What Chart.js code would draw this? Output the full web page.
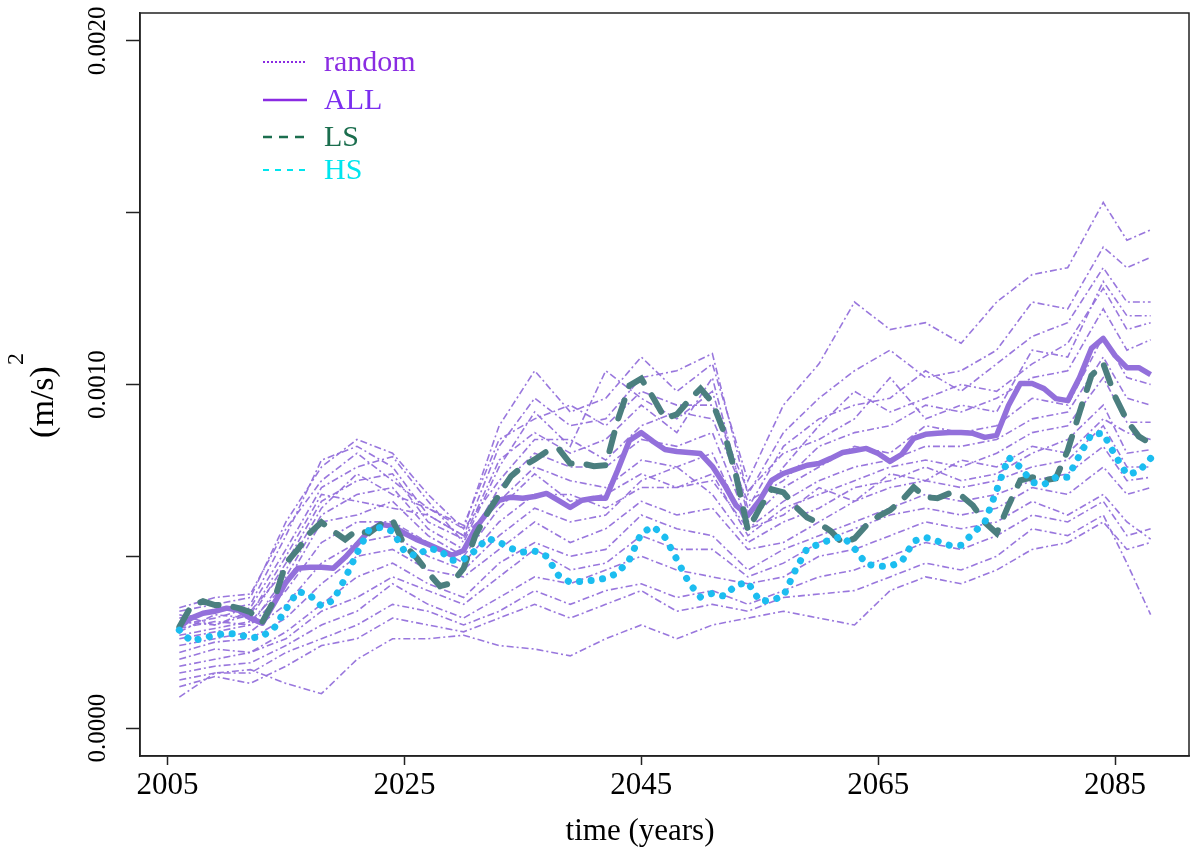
<!DOCTYPE html>
<html lang="en">
<head>
<meta charset="UTF-8">
<title>(m/s)^2 over time</title>
<script src="https://cdn.jsdelivr.net/npm/chart.js@4.4.0/dist/chart.umd.min.js"></script>
<style>
  body { margin: 0; background: #fff; }
  .wrap { width: 1200px; height: 858px; position: relative; }
</style>
</head>
<body>
<div class="wrap"><canvas id="chart"></canvas></div>
<script>
// values are in units of 1e-4 (m/s)^2
const years = [2006, 2007, 2008, 2009, 2010, 2011, 2012, 2013, 2014, 2015,
  2016, 2017, 2018, 2019, 2020, 2021, 2022, 2023, 2024, 2025,
  2026, 2027, 2028, 2029, 2030, 2031, 2032, 2033, 2034, 2035,
  2036, 2037, 2038, 2039, 2040, 2041, 2042, 2043, 2044, 2045,
  2046, 2047, 2048, 2049, 2050, 2051, 2052, 2053, 2054, 2055,
  2056, 2057, 2058, 2059, 2060, 2061, 2062, 2063, 2064, 2065,
  2066, 2067, 2068, 2069, 2070, 2071, 2072, 2073, 2074, 2075,
  2076, 2077, 2078, 2079, 2080, 2081, 2082, 2083, 2084, 2085,
  2086, 2087, 2088];

const allVals = [2.94, 3.20, 3.34, 3.40, 3.49, 3.43, 3.20, 3.05, 3.63, 4.24,
  4.65, 4.68, 4.68, 4.65, 4.97, 5.35, 5.73, 5.93, 5.87, 5.67,
  5.49, 5.35, 5.20, 5.03, 5.17, 5.81, 6.28, 6.63, 6.72, 6.69,
  6.74, 6.83, 6.63, 6.42, 6.63, 6.69, 6.69, 7.50, 8.37, 8.60,
  8.34, 8.11, 8.05, 8.02, 7.99, 7.62, 7.09, 6.48, 6.19, 6.63,
  7.21, 7.41, 7.53, 7.65, 7.70, 7.85, 8.02, 8.08, 8.14, 7.99,
  7.76, 7.97, 8.43, 8.55, 8.58, 8.60, 8.60, 8.58, 8.46, 8.52,
  9.39, 10.03, 10.03, 9.88, 9.59, 9.53, 10.20, 11.05, 11.34, 10.84,
  10.49, 10.49, 10.29];

const lsVals = [2.94, 3.55, 3.69, 3.58, 3.58, 3.49, 3.37, 3.08, 3.72, 4.80,
  5.20, 5.67, 5.99, 5.73, 5.49, 5.76, 5.67, 5.93, 6.05, 5.32,
  4.97, 4.53, 4.13, 4.22, 4.65, 5.61, 6.25, 6.80, 7.33, 7.62,
  7.82, 8.05, 8.14, 7.70, 7.70, 7.62, 7.65, 8.95, 9.97, 10.17,
  9.62, 9.01, 9.13, 9.53, 9.88, 9.48, 8.60, 7.35, 5.76, 6.40,
  6.95, 6.86, 6.45, 6.13, 5.96, 5.73, 5.38, 5.52, 5.90, 6.16,
  6.34, 6.63, 7.01, 6.72, 6.69, 6.83, 6.77, 6.48, 5.99, 5.67,
  6.48, 7.21, 7.30, 7.21, 7.27, 8.08, 9.19, 10.26, 10.61, 9.65,
  8.95, 8.49, 8.28];

const hsVals = [2.85, 2.53, 2.62, 2.70, 2.76, 2.73, 2.62, 2.67, 2.91, 3.46,
  3.98, 3.87, 3.55, 3.72, 4.36, 5.09, 5.76, 5.84, 5.73, 5.15,
  5.00, 5.23, 5.17, 4.88, 4.91, 5.17, 5.52, 5.41, 5.23, 5.12,
  5.15, 5.00, 4.45, 4.24, 4.27, 4.30, 4.36, 4.51, 4.91, 5.67,
  5.87, 5.55, 4.91, 4.24, 3.81, 3.92, 3.84, 4.16, 4.24, 3.69,
  3.72, 3.84, 4.59, 5.23, 5.35, 5.49, 5.58, 5.23, 4.77, 4.71,
  4.71, 4.85, 5.44, 5.55, 5.44, 5.32, 5.32, 5.67, 5.99, 6.92,
  7.88, 7.59, 7.15, 7.09, 7.30, 7.30, 7.94, 8.55, 8.58, 7.94,
  7.38, 7.47, 7.85];

// the random runs, read roughly every third year
const runYears = [2006, 2009, 2012, 2015, 2018, 2021, 2024, 2027, 2030, 2033,
  2036, 2039, 2042, 2045, 2048, 2051, 2054, 2057, 2060, 2063,
  2066, 2069, 2072, 2075, 2078, 2081, 2084, 2086, 2088];

const randomRuns = [
  [3.4, 3.6, 3.8, 6.0, 7.6, 8.4, 8.0, 6.8, 5.8, 8.8, 10.4, 9.2, 9.6, 10.8, 9.8, 10.6, 7.2, 9.4, 10.6, 12.4, 11.6, 11.8, 11.2, 12.4, 13.2, 13.4, 15.3, 14.2, 14.5],
  [3.2, 3.4, 3.6, 5.6, 7.8, 8.2, 7.6, 6.2, 5.6, 8.2, 9.6, 8.8, 9.0, 10.2, 10.4, 10.9, 6.8, 8.6, 9.6, 10.4, 11.0, 10.2, 10.4, 11.0, 12.4, 12.2, 14.0, 13.4, 13.7],
  [3.0, 3.2, 3.5, 5.2, 7.0, 7.6, 7.9, 6.6, 5.4, 7.6, 9.2, 8.2, 10.4, 9.6, 9.0, 9.8, 6.4, 8.2, 9.0, 9.4, 9.6, 10.4, 9.8, 10.6, 11.4, 11.8, 13.4, 12.4, 12.4],
  [2.8, 3.3, 3.2, 4.8, 6.6, 7.2, 7.4, 6.0, 5.5, 7.8, 8.6, 8.0, 8.4, 9.4, 8.6, 10.2, 6.2, 7.6, 8.8, 9.8, 9.2, 9.6, 10.0, 9.8, 10.6, 11.2, 12.8, 11.6, 11.8],
  [3.1, 3.0, 3.4, 4.6, 6.4, 7.4, 6.8, 6.4, 5.8, 7.2, 8.4, 8.4, 7.8, 8.8, 9.2, 9.0, 6.6, 7.2, 8.2, 8.6, 8.8, 9.4, 9.2, 9.6, 10.2, 10.4, 12.2, 11.0, 11.3],
  [2.9, 3.1, 3.0, 4.4, 6.2, 6.8, 7.0, 5.8, 5.2, 7.0, 8.0, 7.6, 7.6, 8.4, 8.2, 8.6, 6.0, 7.0, 7.6, 8.2, 8.0, 8.8, 8.6, 8.8, 9.6, 9.4, 11.4, 10.2, 10.0],
  [3.3, 3.0, 3.3, 5.0, 6.8, 6.6, 6.4, 6.2, 5.6, 6.6, 7.6, 7.2, 7.0, 7.8, 7.6, 8.0, 5.8, 6.6, 7.2, 7.6, 7.8, 8.2, 8.2, 8.4, 9.0, 9.2, 10.8, 9.6, 9.4],
  [2.7, 2.9, 3.1, 4.2, 6.0, 6.2, 6.6, 5.6, 5.0, 6.4, 7.4, 6.6, 6.8, 7.4, 7.0, 7.4, 5.6, 6.4, 6.8, 7.2, 7.6, 7.8, 7.6, 8.0, 8.6, 8.8, 10.2, 8.9, 8.9],
  [3.5, 3.8, 3.9, 5.8, 7.2, 8.0, 7.2, 6.4, 5.9, 8.4, 9.0, 9.4, 8.8, 9.8, 9.4, 9.4, 6.9, 8.0, 8.4, 9.0, 10.2, 9.0, 9.4, 9.2, 11.0, 10.8, 13.0, 12.0, 12.0],
  [2.6, 2.8, 3.0, 4.0, 5.4, 6.0, 6.0, 5.4, 4.8, 6.0, 6.8, 6.8, 6.4, 7.0, 7.0, 7.2, 5.8, 6.2, 7.0, 6.6, 7.4, 7.2, 7.8, 7.6, 8.2, 8.0, 9.0, 8.6, 8.4],
  [2.4, 2.6, 2.8, 3.6, 4.8, 5.4, 5.6, 5.0, 4.6, 5.6, 6.4, 6.0, 6.2, 7.2, 7.6, 6.8, 5.4, 6.0, 6.4, 7.0, 7.2, 7.6, 7.2, 7.4, 8.0, 8.4, 9.4, 8.0, 8.1],
  [2.2, 2.5, 2.6, 3.2, 4.2, 5.0, 5.2, 4.6, 4.4, 5.2, 6.0, 5.4, 5.8, 6.6, 6.2, 6.4, 5.2, 5.4, 6.0, 6.6, 7.0, 7.2, 7.0, 7.2, 7.6, 7.8, 8.8, 7.6, 7.6],
  [2.0, 2.3, 2.2, 2.8, 3.6, 4.4, 4.8, 4.2, 3.8, 4.8, 5.4, 5.0, 5.2, 6.2, 5.8, 5.6, 4.6, 5.2, 5.6, 6.0, 6.4, 6.8, 6.6, 6.8, 7.2, 7.4, 8.2, 7.2, 7.3],
  [1.8, 2.0, 2.2, 2.6, 3.4, 3.8, 4.4, 4.0, 3.6, 4.4, 5.2, 4.6, 4.8, 5.6, 5.2, 5.2, 4.4, 4.8, 5.4, 5.8, 6.2, 6.4, 6.2, 6.4, 7.0, 6.8, 7.6, 6.8, 7.0],
  [1.6, 1.8, 1.9, 2.4, 3.0, 3.4, 4.2, 3.6, 3.2, 3.8, 4.4, 4.2, 4.6, 5.0, 4.6, 4.4, 4.2, 4.4, 5.0, 5.2, 5.6, 6.0, 5.8, 6.0, 6.6, 6.2, 6.8, 6.0, 5.5],
  [1.4, 1.6, 1.6, 2.2, 2.6, 3.0, 3.6, 3.4, 3.0, 3.4, 4.0, 3.6, 4.0, 4.2, 3.8, 4.0, 3.6, 4.0, 4.4, 4.6, 5.0, 5.4, 5.2, 5.6, 6.2, 6.0, 6.6, 5.6, 5.8],
  [1.2, 1.5, 1.3, 1.8, 2.4, 2.6, 3.2, 3.0, 2.8, 3.2, 3.6, 3.2, 3.6, 4.0, 3.4, 3.6, 3.4, 3.8, 3.9, 4.0, 4.4, 4.8, 4.6, 5.0, 5.8, 5.6, 6.2, 4.8, 3.3],
  [0.9, 1.6, 1.7, 1.3, 1.0, 2.0, 2.6, 2.6, 2.7, 2.4, 2.3, 2.1, 2.6, 3.0, 2.6, 3.0, 3.2, 3.4, 3.2, 3.0, 4.0, 4.4, 4.2, 4.6, 5.2, 5.4, 6.0, 5.2, 5.4]
];

const xTickYears = [2005, 2025, 2045, 2065, 2085];
const yTicks = [0, 5, 10, 15, 20];
const yLabelTicks = [0, 10, 20];

const legendItems = [
  { label: 'random', text: '#8a2be2', line: '#8a2be2', dash: [2, 2], width: 2 },
  { label: 'ALL', text: '#7b2ff0', line: '#8a2be2', dash: [], width: 2.5 },
  { label: 'LS', text: '#1b6e4e', line: '#1b6e4e', dash: [9, 7], width: 2.5 },
  { label: 'HS', text: '#00e5ee', line: '#00e5ee', dash: [6, 6], width: 2 }
];

function toPoints(xs, vs) {
  return xs.map((x, i) => ({ x: x, y: vs[i] }));
}

const datasets = [];
randomRuns.forEach((run, i) => {
  datasets.push({
    label: 'random ' + (i + 1),
    data: toPoints(runYears, run),
    borderColor: 'rgba(147,112,219,0.95)',
    borderWidth: 1.6,
    borderDash: [7, 3, 2, 3],
    order: 4
  });
});
datasets.push({
  label: 'ALL', data: toPoints(years, allVals),
  borderColor: '#9370db', borderWidth: 5.5, borderJoinStyle: 'round', order: 3
});
datasets.push({
  label: 'LS', data: toPoints(years, lsVals),
  borderColor: '#4b7f7f', borderWidth: 6, borderDash: [19, 15], borderCapStyle: 'round', order: 2
});
datasets.push({
  label: 'HS', data: toPoints(years, hsVals),
  borderColor: '#1cbdf0', borderWidth: 7, borderDash: [0.1, 11.5], borderCapStyle: 'round', order: 1
});

const serif = '"Liberation Serif", "Times New Roman", serif';

// box, rotated y labels, axis titles and the legend
const overlay = {
  id: 'overlay',
  afterDraw(chart) {
    const { ctx, chartArea: a, scales } = chart;
    const y = scales.y;
    ctx.save();
    ctx.strokeStyle = '#222';
    ctx.lineWidth = 1.5;
    ctx.strokeRect(a.left, a.top, a.right - a.left, a.bottom - a.top);

    ctx.fillStyle = '#000';
    ctx.font = '25px ' + serif;
    ctx.textAlign = 'center';
    ctx.textBaseline = 'alphabetic';
    yLabelTicks.forEach(v => {
      ctx.save();
      ctx.translate(105, y.getPixelForValue(v));
      ctx.rotate(-Math.PI / 2);
      ctx.fillText((v * 1e-4).toFixed(4), 0, 0);
      ctx.restore();
    });

    // y title with superscript
    ctx.save();
    ctx.translate(53, 402);
    ctx.rotate(-Math.PI / 2);
    ctx.font = '34px ' + serif;
    const w = ctx.measureText('(m/s)').width;
    ctx.fillText('(m/s)', 0, 0);
    ctx.font = '24px ' + serif;
    ctx.textAlign = 'left';
    ctx.fillText('2', w / 2 + 1, -30);
    ctx.restore();

    ctx.font = '31px ' + serif;
    ctx.textAlign = 'center';
    ctx.fillText('time (years)', 640, 840);

    // legend
    const rows = [62, 100, 137, 170];
    legendItems.forEach((it, i) => {
      ctx.beginPath();
      ctx.strokeStyle = it.line;
      ctx.lineWidth = it.width;
      ctx.setLineDash(it.dash);
      ctx.moveTo(263, rows[i]);
      ctx.lineTo(307, rows[i]);
      ctx.stroke();
      ctx.setLineDash([]);
      ctx.fillStyle = it.text;
      ctx.font = '30px ' + serif;
      ctx.textAlign = 'left';
      ctx.textBaseline = 'middle';
      ctx.fillText(it.label, 324, rows[i] + 1);
    });
    ctx.restore();
  }
};

new Chart(document.getElementById('chart'), {
  type: 'line',
  data: { datasets: datasets },
  options: {
    responsive: true,
    maintainAspectRatio: false,
    animation: false,
    layout: { padding: { top: 13, right: 11, left: 0, bottom: 0 } },
    elements: { point: { radius: 0 }, line: { tension: 0, fill: false } },
    plugins: { legend: { display: false }, tooltip: { enabled: false } },
    scales: {
      x: {
        type: 'linear',
        min: 2002.68,
        max: 2091.24,
        afterBuildTicks: s => { s.ticks = xTickYears.map(v => ({ value: v })); },
        afterFit: s => { s.height = 102; },
        grid: { drawOnChartArea: false, drawTicks: true, tickLength: 9, color: '#222', tickWidth: 1.5 },
        border: { display: true, color: '#222', width: 1.5 },
        ticks: {
          color: '#000',
          font: { family: serif, size: 31 },
          padding: 2,
          maxRotation: 0,
          callback: v => String(v)
        }
      },
      y: {
        min: -0.814,
        max: 20.814,
        afterBuildTicks: s => { s.ticks = yTicks.map(v => ({ value: v })); },
        afterFit: s => { s.width = 140; },
        grid: { drawOnChartArea: false, drawTicks: true, tickLength: 14, color: '#222', tickWidth: 1.5 },
        border: { display: true, color: '#222', width: 1.5 },
        ticks: { display: false }
      }
    }
  },
  plugins: [overlay]
});
</script>
</body>
</html>
